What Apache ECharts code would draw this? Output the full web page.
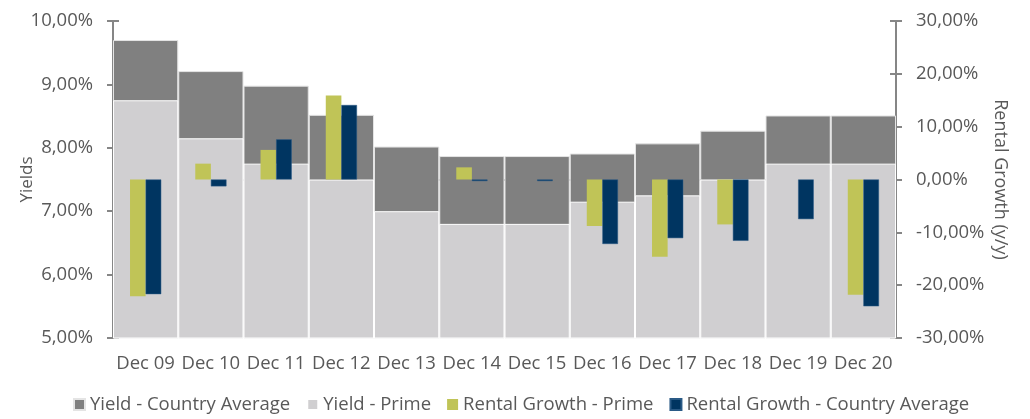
<!DOCTYPE html>
<html><head><meta charset="utf-8">
<script src="https://cdn.jsdelivr.net/npm/echarts@6/dist/echarts.min.js"></script>
<style>html,body{margin:0;padding:0;background:#fff}#c{width:1030px;height:419px}</style>
</head><body><div id="c"></div>
<script>
const categories = ['Dec 09','Dec 10','Dec 11','Dec 12','Dec 13','Dec 14','Dec 15','Dec 16','Dec 17','Dec 18','Dec 19','Dec 20'];
const yieldCountryAvg = [9.70, 9.21, 8.98, 8.52, 8.02, 7.87, 7.87, 7.91, 8.07, 8.27, 8.51, 8.51];
const yieldPrime = [8.75, 8.15, 7.75, 7.50, 7.00, 6.80, 6.80, 7.15, 7.25, 7.50, 7.75, 7.75];
const rentalPrime = [-22.1, 3.0, 5.6, 15.9, null, 2.3, null, -8.8, -14.6, -8.5, null, -21.8];
const rentalCountryAvg = [-21.7, -1.3, 7.6, 14.1, null, -0.3, -0.3, -12.2, -11.1, -11.6, -7.5, -24.0];

const fmt = v => v.toFixed(2).replace('.', ',') + '%';
const txt = '#595959';
const axisCol = '#868686';
const font = 'Open Sans';
const chart = echarts.init(document.getElementById('c'));
const innerTicks = (pos, min, max, interval) => ({
  type: 'value', position: pos, min, max, interval,
  splitLine: { show: false }, axisLine: { show: false }, axisLabel: { show: false },
  axisTick: { show: true, inside: true, length: 6, lineStyle: { color: axisCol, width: 2 } }
});
chart.setOption({
  animation: false,
  textStyle: { fontFamily: font },
  grid: { left: 113, right: 134, top: 21, bottom: 81, containLabel: false, outerBoundsMode: 'none' },
  legend: {
    bottom: 0, left: 68, itemWidth: 11, itemHeight: 11, itemGap: 16, icon: 'rect',
    textStyle: { color: txt, fontSize: 18.5, fontFamily: font },
    data: ['Yield - Country Average', 'Yield - Prime', 'Rental Growth - Prime', 'Rental Growth - Country Average']
  },
  xAxis: [
    { type: 'category', data: categories,
      axisLine: { lineStyle: { color: axisCol, width: 2 } },
      axisTick: { lineStyle: { color: axisCol, width: 2 }, length: 6 },
      axisLabel: { color: txt, fontSize: 18.5, margin: 16, interval: 0 } },
    { type: 'category', data: categories, show: false, position: 'bottom' }
  ],
  yAxis: [
    { type: 'value', min: 5, max: 10, interval: 1, name: 'Yields', nameLocation: 'middle', nameGap: 77,
      nameMoveOverlap: false,
      nameTextStyle: { color: txt, fontSize: 17 },
      splitLine: { show: false },
      axisLine: { show: true, lineStyle: { color: axisCol, width: 2 } },
      axisTick: { show: true, length: 6, lineStyle: { color: axisCol, width: 2 } },
      axisLabel: { color: txt, fontSize: 18.5, formatter: fmt, margin: 20 } },
    { type: 'value', min: -30, max: 30, interval: 10, name: 'Rental Growth (y/y)', nameLocation: 'middle', nameGap: 95,
      nameRotate: -90, nameMoveOverlap: false,
      nameTextStyle: { color: txt, fontSize: 18 },
      splitLine: { show: false },
      axisLine: { show: true, lineStyle: { color: axisCol, width: 2 } },
      axisTick: { show: true, length: 6, lineStyle: { color: axisCol, width: 2 } },
      axisLabel: { color: txt, fontSize: 18.5, formatter: fmt, margin: 20 } },
    innerTicks('left', 5, 10, 1),
    innerTicks('right', -30, 30, 10)
  ],
  series: [
    { name: 'Yield - Country Average', type: 'bar', xAxisIndex: 0, yAxisIndex: 0, data: yieldCountryAvg,
      barWidth: '100%', barGap: '-100%',
      itemStyle: { color: '#808080', borderColor: '#e4e4e4', borderWidth: 1 } },
    { name: 'Yield - Prime', type: 'bar', xAxisIndex: 0, yAxisIndex: 0, data: yieldPrime,
      barWidth: '100%', barGap: '-100%',
      itemStyle: { color: '#d0cfd1', borderColor: '#ffffff', borderWidth: 1 } },
    { name: 'Rental Growth - Prime', type: 'bar', xAxisIndex: 1, yAxisIndex: 1, data: rentalPrime,
      barWidth: 15.6, barGap: '0%',
      itemStyle: { color: '#c0c457' } },
    { name: 'Rental Growth - Country Average', type: 'bar', xAxisIndex: 1, yAxisIndex: 1, data: rentalCountryAvg,
      barWidth: 15.6, barGap: '0%',
      itemStyle: { color: '#003561', borderColor: '#2a5a86', borderWidth: 0.5 } }
  ]
});
</script></body></html>
